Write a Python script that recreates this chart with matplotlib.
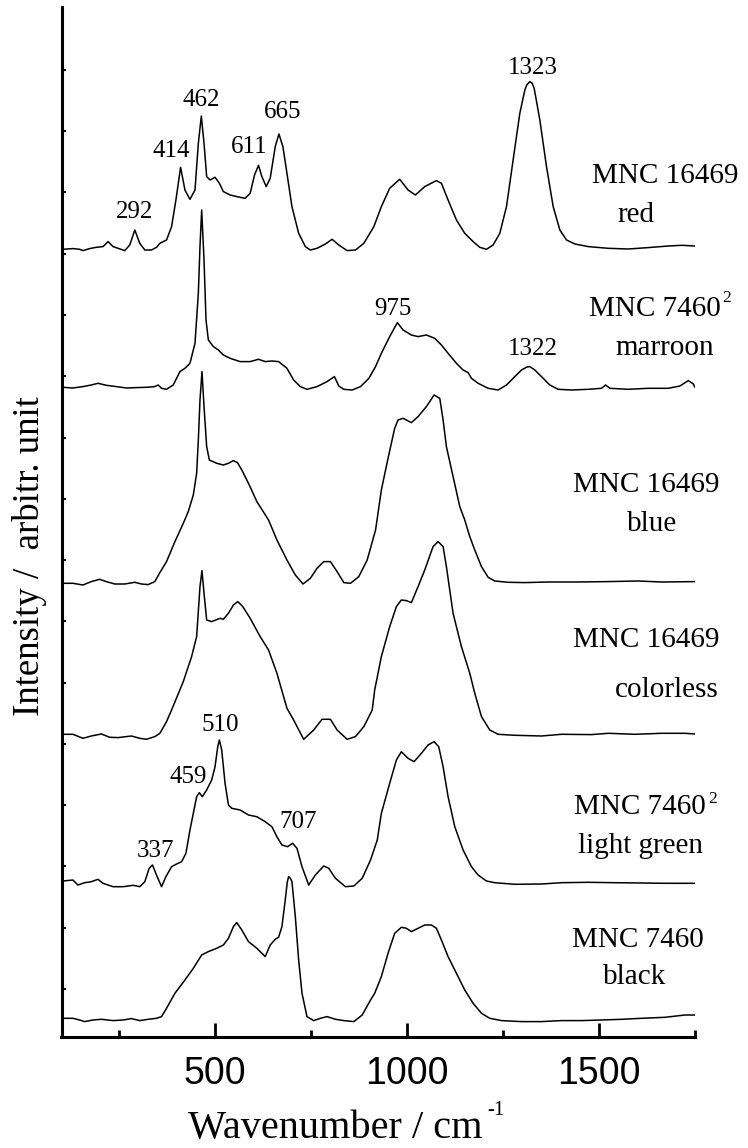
import matplotlib
matplotlib.use("Agg")
import matplotlib.pyplot as plt

# Raman spectra: (wavenumber cm-1, intensity above own baseline, arb. units)
red = [(103.6, 0), (129.7, 0.07), (147.2, 0), (155.9, -0.13), (173.3, 0.07), (190.7, 0.2),
       (208.1, 0.27), (221.2, 0.77), (234.3, 0.27), (247.3, 0.1), (264.7, -0.13), (277.8, 0.43),
       (290.9, 1.93), (303.9, 0.6), (317.0, -0.07), (334.4, -0.07), (347.5, 0.2), (356.2, 0.6),
       (373.6, 0.93), (386.7, 2.27), (398.0, 4.93), (410.2, 8.2), (421.5, 5.93), (434.6, 5.0),
       (447.7, 5.93), (456.4, 10.6), (464.2, 13.33), (471.2, 10.6), (478.1, 7.27), (486.9, 6.93),
       (499.9, 7.2), (511.2, 6.6), (521.7, 5.77), (539.1, 5.43), (556.5, 5.27), (578.3, 5.1),
       (591.4, 5.6), (602.7, 7.43), (613.1, 8.4), (621.9, 7.27), (633.2, 6.27), (643.6, 7.1),
       (656.7, 10.27), (666.3, 11.53), (676.7, 10.27), (687.2, 7.6), (700.2, 4.27), (717.7, 1.6),
       (735.1, 0.27), (748.2, -0.07), (765.6, 0.1), (787.3, 0.53), (804.8, 1.0), (822.2, 0.43),
       (844.0, -0.13), (865.7, -0.07), (887.5, 0.6), (913.6, 2.27), (933.1, 4.27), (954.8, 6.1),
       (980.9, 7.0), (1002.6, 5.93), (1021.7, 5.43), (1046.1, 6.27), (1076.5, 6.87), (1089.5, 6.6),
       (1106.9, 4.93), (1128.6, 2.93), (1150.3, 1.6), (1172.1, 0.77), (1189.4, 0.2), (1206.8, 0),
       (1224.2, 0.43), (1241.6, 1.6), (1259.0, 4.27), (1276.3, 8.93), (1293.7, 13.6), (1306.8, 15.93),
       (1312.0, 16.45), (1319.8, 16.77), (1326.0, 16.6), (1331.1, 16.1), (1345.9, 12.93), (1363.2, 8.27),
       (1380.6, 4.27), (1398.0, 1.93), (1415.4, 0.93), (1437.1, 0.53), (1471.9, 0.27), (1524.0, 0.1),
       (1576.1, 0.03), (1628.3, 0.17), (1680.4, 0.33), (1715.2, 0.4), (1750.0, 0.33)]

marroon = [(103.6, 0), (129.7, -0.07), (155.9, 0.07), (177.6, 0.23), (195.1, 0.4), (216.8, 0.2),
           (243.0, 0.07), (269.1, -0.07), (295.2, -0.03), (321.4, 0), (343.1, 0.07), (351.8, 0.23),
           (360.6, -0.1), (373.6, -0.2), (391.0, 0.23), (408.5, 1.57), (421.5, 1.9), (434.6, 2.4),
           (447.7, 4.4), (456.4, 9.4), (460.7, 14.07), (465.1, 17.73), (471.2, 12.73), (476.4, 6.73),
           (482.5, 4.73), (495.6, 4.07), (508.6, 3.73), (521.7, 3.23), (539.1, 2.9), (565.2, 2.57),
           (591.4, 2.57), (613.1, 2.8), (630.6, 2.57), (648.0, 2.63), (665.4, 2.57), (687.2, 1.9),
           (704.6, 0.73), (722.0, 0.07), (739.4, -0.2), (765.6, 0.07), (791.7, 0.57), (810.9, 1.07),
           (822.2, 0.13), (835.3, -0.2), (857.0, -0.27), (878.8, 0.07), (900.6, 0.9), (918.0, 2.07),
           (933.1, 3.4), (954.8, 5.07), (974.8, 6.47), (989.6, 5.73), (1011.3, 5.23), (1028.7, 5.07),
           (1050.4, 5.23), (1072.1, 4.9), (1089.5, 4.23), (1106.9, 3.4), (1128.6, 2.4), (1146.0, 1.73),
           (1159.0, 1.47), (1167.7, 0.9), (1185.1, 0.4), (1211.2, -0.1), (1237.2, -0.27), (1259.0, 0.23),
           (1280.7, 1.07), (1298.1, 1.73), (1312.0, 2.03), (1319.8, 2.07), (1332.8, 1.73), (1350.2, 1.07),
           (1371.9, 0.23), (1393.7, -0.2), (1428.4, -0.27), (1471.9, -0.2), (1506.6, -0.1), (1517.0, 0.23),
           (1528.3, -0.1), (1576.1, -0.2), (1628.3, -0.1), (1680.4, -0.1), (1710.8, 0.13), (1732.6, 0.67),
           (1745.6, 0.33), (1750.0, 0)]

blue = [(103.6, 0), (129.7, 0), (155.9, -0.17), (177.6, 0.17), (199.4, 0.4), (216.8, 0.17),
        (238.6, -0.07), (264.7, -0.07), (290.9, 0.1), (308.3, -0.07), (325.7, -0.13), (343.1, 0.17),
        (356.2, 1.07), (373.6, 2.17), (395.4, 4.17), (417.2, 6.0), (430.2, 7.17), (443.3, 8.83),
        (452.0, 11.0), (456.4, 14.33), (460.7, 18.33), (465.9, 21.17), (471.2, 17.67), (478.1, 13.67),
        (485.1, 12.33), (504.3, 12.0), (521.7, 11.83), (534.8, 12.0), (547.8, 12.27), (558.3, 12.07),
        (569.6, 11.33), (587.0, 10.0), (608.8, 8.17), (639.3, 6.33), (661.1, 4.33), (687.2, 2.33),
        (709.0, 0.83), (729.0, -0.07), (748.2, 0.5), (765.6, 1.5), (783.0, 2.17), (800.4, 2.17),
        (817.8, 1.17), (835.3, 0.07), (852.7, 0), (874.4, 0.67), (896.2, 2.33), (918.0, 5.33),
        (933.1, 9.33), (950.5, 12.5), (967.8, 15.5), (976.5, 16.33), (989.6, 16.5), (1011.3, 16.07),
        (1028.7, 16.67), (1050.4, 17.67), (1070.4, 18.83), (1085.2, 18.5), (1093.9, 16.33),
        (1102.5, 13.67), (1119.9, 10.67), (1137.3, 7.67), (1150.3, 6.33), (1163.4, 4.67),
        (1176.4, 3.33), (1193.8, 1.67), (1211.2, 0.6), (1228.5, 0.23), (1263.3, 0.1), (1306.8, 0.07),
        (1367.6, 0.13), (1437.1, 0.13), (1524.0, 0.17), (1602.2, 0.23), (1663.0, 0.13), (1750.0, 0.17)]

colorless = [(103.6, 0), (129.7, 0), (155.9, -0.4), (177.6, -0.17), (203.8, 0.03), (225.6, -0.3),
             (247.3, -0.33), (282.2, -0.17), (303.9, -0.4), (321.4, -0.5), (343.1, -0.23), (356.2, 0.1),
             (373.6, 1.27), (386.7, 2.43), (417.2, 5.27), (438.9, 7.77), (452.0, 9.77), (460.7, 14.77),
             (465.9, 16.37), (471.2, 14.1), (478.1, 11.43), (491.2, 11.27), (513.0, 11.6), (521.7, 11.5),
             (534.8, 12.1), (547.8, 12.93), (559.1, 13.27), (572.2, 12.77), (591.4, 11.6), (617.5, 9.77),
             (639.3, 8.43), (661.1, 6.1), (687.2, 2.6), (704.6, 1.43), (730.7, -0.5), (756.9, 0.43),
             (778.6, 1.5), (800.4, 1.5), (817.8, 0.43), (844.0, -0.5), (865.7, -0.23), (887.5, 0.77),
             (909.3, 2.43), (915.7, 4.43), (933.1, 7.77), (954.8, 10.77), (972.2, 12.77), (985.2, 13.43),
             (998.3, 13.37), (1011.3, 13.17), (1028.7, 14.77), (1046.1, 16.43), (1067.8, 18.77),
             (1080.8, 19.27), (1093.9, 18.77), (1102.5, 16.77), (1119.9, 12.1), (1141.6, 8.77),
             (1163.4, 6.1), (1176.4, 4.1), (1193.8, 1.77), (1215.5, 0.43), (1237.2, 0), (1280.7, -0.1),
             (1350.2, -0.17), (1402.3, 0), (1480.6, -0.03), (1524.0, 0.1), (1593.5, 0), (1663.0, 0.1),
             (1723.9, 0.1), (1750.0, 0.03)]

light_green = [(103.6, 0), (129.7, 0.1), (142.8, -0.4), (160.2, -0.17), (177.6, -0.07), (195.1, 0.17),
               (208.1, -0.23), (234.3, -0.57), (260.4, -0.57), (286.5, -0.43), (303.9, -0.57), (317.0, -0.07),
               (328.3, 1.27), (337.0, 1.6), (349.2, 0.43), (360.6, -0.57), (371.9, 0.43), (386.7, 1.43),
               (399.8, 1.7), (412.8, 1.93), (424.1, 2.77), (434.6, 5.1), (443.3, 6.77), (452.0, 8.43),
               (459.0, 8.83), (466.8, 8.43), (478.1, 9.1), (491.2, 10.1), (499.9, 11.43), (506.9, 13.43),
               (511.2, 14.1), (517.3, 13.1), (526.0, 9.77), (534.8, 7.6), (543.5, 7.27), (565.2, 7.1),
               (587.0, 6.6), (608.8, 6.43), (630.6, 5.93), (648.0, 5.43), (661.1, 4.43), (674.1, 3.6),
               (688.9, 3.43), (702.0, 3.77), (713.3, 3.27), (726.4, 1.43), (743.8, -0.4), (761.2, 0.6),
               (783.0, 1.5), (796.1, 1.27), (813.5, 0.27), (839.6, -0.57), (861.4, -0.5), (883.2, 0.27),
               (904.9, 2.1), (922.4, 4.1), (933.1, 6.77), (954.8, 9.77), (972.2, 12.1), (985.2, 12.93),
               (1002.6, 12.27), (1018.2, 11.93), (1037.4, 12.77), (1054.7, 13.6), (1070.4, 13.93),
               (1082.5, 13.43), (1093.9, 11.43), (1106.9, 8.43), (1124.3, 5.43), (1146.0, 3.1),
               (1167.7, 1.43), (1185.1, 0.6), (1206.8, 0), (1228.5, -0.17), (1280.7, -0.33), (1350.2, -0.3),
               (1402.3, -0.17), (1471.9, -0.13), (1541.4, -0.17), (1610.9, -0.2), (1671.7, -0.23),
               (1750.0, -0.23)]

black = [(103.6, 0), (129.7, 0), (147.2, -0.17), (160.2, -0.33), (182.0, -0.17), (203.8, -0.1),
         (234.3, -0.23), (260.4, -0.17), (282.2, -0.03), (303.9, -0.23), (325.7, -0.1), (347.5, 0),
         (360.6, 0.17), (373.6, 1.0), (395.4, 2.5), (421.5, 3.83), (443.3, 5.0), (465.1, 6.33),
         (482.5, 6.67), (504.3, 7.0), (521.7, 7.33), (534.8, 8.0), (547.8, 9.17), (556.5, 9.57),
         (569.6, 8.83), (587.0, 7.67), (608.8, 7.0), (630.6, 6.17), (643.6, 7.33), (656.7, 7.9),
         (665.4, 8.1), (674.1, 9.17), (682.8, 11.83), (688.0, 13.6), (691.5, 14.17), (696.0, 14.0),
         (700.2, 13.67), (709.0, 10.17), (717.7, 5.83), (726.4, 2.5), (739.4, 0.17), (756.9, -0.23),
         (774.3, 0), (791.7, 0.17), (813.5, -0.1), (835.3, -0.23), (861.4, -0.33), (883.2, 0.33),
         (904.9, 1.83), (915.7, 2.5), (933.1, 4.17), (950.5, 6.5), (967.8, 8.5), (985.2, 9.1),
         (998.3, 9.0), (1011.3, 8.67), (1028.7, 9.0), (1046.1, 9.33), (1063.4, 9.33), (1076.5, 9.0),
         (1089.5, 7.83), (1106.9, 6.17), (1128.6, 4.5), (1150.3, 2.83), (1172.1, 1.5), (1193.8, 0.5),
         (1215.5, 0), (1245.9, -0.23), (1298.1, -0.33), (1350.2, -0.33), (1402.3, -0.23), (1454.5, -0.23),
         (1506.6, -0.17), (1558.8, -0.1), (1610.9, 0), (1671.7, 0.1), (1723.9, 0.33), (1750.0, 0.33)]

spectra = [red, marroon, blue, colorless, light_green, black]
offsets = [78.77, 64.97, 45.37, 30.27, 15.6, 1.87]

sample_names = ["MNC 16469", "MNC 7460", "MNC 16469", "MNC 16469", "MNC 7460", "MNC 7460"]
sample_sup = ["", "2", "", "", "2", ""]
sample_colours = ["red", "marroon", "blue", "colorless", "light green", "black"]

peak_labels = ["292", "414", "462", "611", "665", "1323", "975", "1322", "510", "459", "337", "707"]

# text placement (data coords, left/baseline for names, centre/baseline for peaks)
name_pos = [(1482, 85.43), (1474, 72.1), (1433, 54.53), (1433, 39.03), (1435, 22.3), (1429, 9.03)]
sup_pos = [None, (1822, 73.5), None, None, (1784, 23.4), None]
colour_pos = [(1547, 81.47), (1544, 68.2), (1572, 50.63), (1542, 33.97), (1444, 18.43), (1509, 5.3)]
peak_pos = [(289, 81.87), (385, 88.03), (463, 93.1), (588, 88.37), (675, 91.87), (1327, 96.3),
            (964, 72.2), (1328, 68.2), (513, 30.63), (430, 25.37), (346, 18.03), (716, 20.87)]

serif = "Liberation Serif"
plt.rcParams["font.family"] = "Liberation Sans"

fig = plt.figure(figsize=(7.48, 11.48), dpi=100)
ax = fig.add_axes([61.5 / 748, 111 / 1148, 633.5 / 748, 1030 / 1148])

for spec, off in zip(spectra, offsets):
    wn, val = zip(*spec)
    ax.plot(wn, [v + off for v in val], color="black", lw=1.1)

ax.set_xlim(100, 1750)
ax.set_ylim(0, 103)

ax.set_xticks([500, 1000, 1500])
ax.set_xticks([250, 750, 1250, 1750], minor=True)
ax.set_yticks([4.8 + 6.127 * k for k in range(16)])
ax.set_yticklabels([])
ax.tick_params(axis="x", which="major", direction="in", length=10, width=2, labelsize=27, pad=14)
ax.tick_params(axis="x", which="minor", direction="in", length=5, width=2)
ax.tick_params(axis="y", which="major", direction="in", length=3, width=1.5)

for side in ["top", "right"]:
    ax.spines[side].set_visible(False)
for side in ["left", "bottom"]:
    ax.spines[side].set_linewidth(2.2)

for i in range(len(sample_names)):
    ax.text(*name_pos[i], sample_names[i], family=serif, fontsize=21, ha="left", va="baseline")
    if sample_sup[i]:
        ax.text(*sup_pos[i], sample_sup[i], family=serif, fontsize=12.5, ha="left", va="baseline")
    ax.text(*colour_pos[i], sample_colours[i], family=serif, fontsize=21, ha="left", va="baseline")

for lbl, (x, y) in zip(peak_labels, peak_pos):
    ax.text(x, y, lbl, family=serif, fontsize=18, ha="center", va="baseline")

fig.text(188 / 748, 1 - 1138 / 1148, "Wavenumber / cm", family=serif, fontsize=29,
         ha="left", va="baseline")
fig.text(487 / 748, 1 - 1115 / 1148, "-1", family=serif, fontsize=15, ha="left", va="baseline")
fig.text(30 / 748, 1 - 556 / 1148, "Intensity /  arbitr. unit", family=serif, fontsize=26.5,
         rotation=90, ha="center", va="center")

fig.savefig("out.png", dpi=100)
